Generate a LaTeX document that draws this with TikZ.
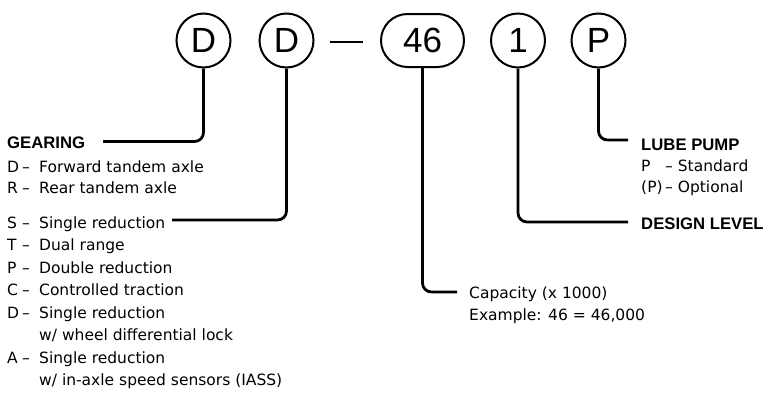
\documentclass[tikz,border=0pt]{standalone}
\usepackage{fontspec}
\setmainfont{DejaVu Sans}
\newfontfamily\headfont{Liberation Sans}
\begin{document}
\begin{tikzpicture}[x=1pt,y=1pt,
  code/.style={draw, circle, line width=2pt, minimum size=54pt, inner sep=0pt,
    font=\headfont\fontsize{35}{35}\selectfont},
  codebox/.style={draw, rectangle, rounded corners=26.5pt, line width=2pt,
    minimum width=83pt, minimum height=53pt, inner sep=0pt,
    font=\headfont\fontsize{35}{35}\selectfont},
  conn/.style={line width=2.8pt, rounded corners=9pt},
  txt/.style={anchor=base west, inner sep=0pt, font=\fontsize{15.5}{18}\selectfont},
  head/.style={anchor=base west, inner sep=0pt, font=\headfont\bfseries\fontsize{16.7}{18}\selectfont}
]
\useasboundingbox (0,0) rectangle (768,-402);

% code boxes
\node[code] (c1) at (203.5,-40.5) {D};
\node[code] (c2) at (286.5,-40.5) {D};
\node[codebox] (c3) at (422.5,-40.5) {46};
\node[code] (c4) at (518,-40.5) {1};
\node[code] (c5) at (598.5,-40.5) {P};
\coordinate (da) at (330,-42);
\coordinate (db) at (363,-42);
\draw[line width=2pt] (da) -- (db);

% free ends of connectors
\coordinate (e1) at (103,-141.5);
\coordinate (e2) at (172,-220);
\coordinate (e3) at (457,-292);
\coordinate (e4) at (628,-222);
\coordinate (e5) at (628,-140);

\draw[conn] (c1.south) |- (e1);
\draw[conn] (c2.south) |- (e2);
\draw[conn] (c3.south) |- (e3);
\draw[conn] (c4.south) |- (e4);
\draw[conn] (c5.south) |- (e5);

\newcommand{\lbl}[2]{\makebox[15pt][l]{#1}\makebox[17pt][l]{–}#2}

% gearing
\node[head] (gh) at (7,-148) {GEARING};
\node[txt] (g1) at (7,-172) {\lbl{D}{Forward tandem axle}};
\node[txt] (g2) at (7,-193) {\lbl{R}{Rear tandem axle}};
\node[txt] (t1) at (7,-228) {\lbl{S}{Single reduction}};
\node[txt] (t2) at (7,-250.5) {\lbl{T}{Dual range}};
\node[txt] (t3) at (7,-273) {\lbl{P}{Double reduction}};
\node[txt] (t4) at (7,-295.5) {\lbl{C}{Controlled traction}};
\node[txt] (t5) at (7,-318) {\lbl{D}{Single reduction}};
\node[txt] (t5b) at (39,-340.5) {w/ wheel differential lock};
\node[txt] (t6) at (7,-363) {\lbl{A}{Single reduction}};
\node[txt] (t6b) at (39,-385.5) {w/ in-axle speed sensors (IASS)};

% capacity
\node[txt] (k1) at (469,-298) {Capacity (x 1000)};
\node[txt] (k2) at (469,-320) {Example: 46 = 46,000};

% lube pump
\node[head] (lh) at (641,-150) {LUBE PUMP};
\node[txt] (l1) at (641,-171) {\makebox[24pt][l]{P}– Standard};
\node[txt] (l2) at (641,-192) {\makebox[24pt][l]{(P)}– Optional};

% design level
\node[head] (dh) at (641,-229) {DESIGN LEVEL};
\end{tikzpicture}
\end{document}
